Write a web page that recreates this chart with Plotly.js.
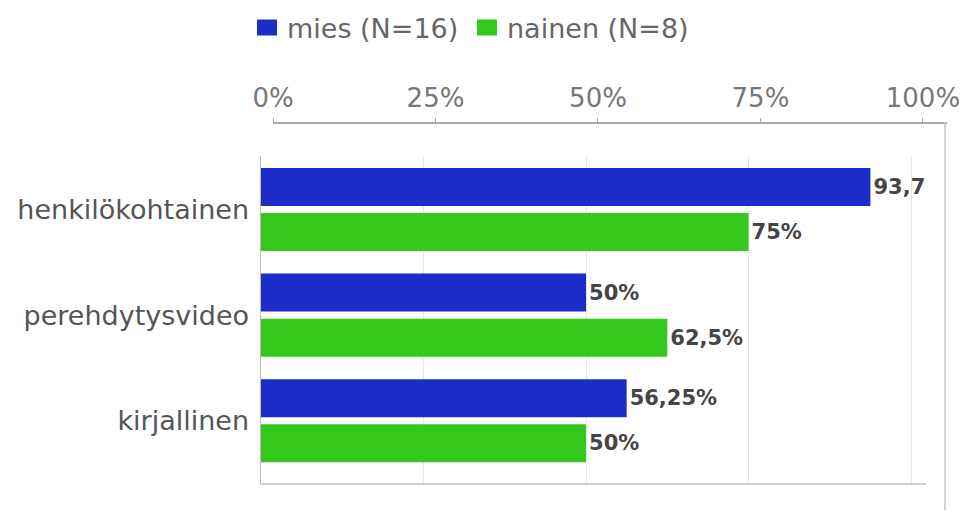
<!DOCTYPE html>
<html>
<head>
<meta charset="utf-8">
<script src="https://cdn.plot.ly/plotly-3.0.1.min.js"></script>
<style>
  html, body { margin: 0; padding: 0; background: #fff; }
  #chart { width: 967px; height: 513px; }
</style>
</head>
<body>
<div id="chart"></div>
<script>
const categories = ['henkilökohtainen', 'perehdytysvideo', 'kirjallinen'];
const miesValues = [93.75, 50, 56.25];
const nainenValues = [75, 62.5, 50];
const miesLabels = ['93,7', '50%', '56,25%'];
const nainenLabels = ['75%', '62,5%', '50%'];
const seriesNames = ['mies (N=16)', 'nainen (N=8)'];
const tickValues = [0, 25, 50, 75, 100];
const tickLabels = ['0%', '25%', '50%', '75%', '100%'];

const W = 967, H = 513;
const px = v => v / W;
const py = v => 1 - v / H;

const labelFont = { family: 'DejaVu Sans', size: 21, color: '#454545', weight: 'bold' };

const traces = [
  {
    type: 'bar', orientation: 'h', name: seriesNames[0],
    y: categories, x: miesValues, text: miesLabels,
    textposition: 'outside', textfont: labelFont, cliponaxis: false,
    constraintext: 'none', hoverinfo: 'none',
    marker: { color: '#1c2cc6' }
  },
  {
    type: 'bar', orientation: 'h', name: seriesNames[1],
    y: categories, x: nainenValues, text: nainenLabels,
    textposition: 'outside', textfont: labelFont, cliponaxis: false,
    constraintext: 'none', hoverinfo: 'none',
    marker: { color: '#35c81c' }
  },
  {
    // empty trace so the top percentage axis (x2) gets drawn
    type: 'scatter', mode: 'markers', x: [], y: [],
    xaxis: 'x2', yaxis: 'y', showlegend: false, hoverinfo: 'skip'
  }
];

const layout = {
  width: W, height: H,
  margin: { l: 0, r: 0, t: 0, b: 0 },
  paper_bgcolor: '#fff', plot_bgcolor: 'rgba(0,0,0,0)',
  font: { family: 'DejaVu Sans', color: '#555' },
  barmode: 'group', bargap: 0.147, bargroupgap: 0.156,
  showlegend: true,
  legend: {
    orientation: 'h', x: px(247), xanchor: 'left', y: py(28), yanchor: 'middle',
    font: { family: 'DejaVu Sans', size: 27, color: '#666' },
    traceorder: 'normal', bgcolor: 'rgba(0,0,0,0)',
    entrywidth: 175, entrywidthmode: 'pixels'
  },
  xaxis: {
    domain: [px(261), px(926)], range: [0, 102.3],
    showticklabels: false, ticks: '',
    tickvals: tickValues,
    showgrid: true, gridcolor: '#e6e6e6', gridwidth: 1,
    zeroline: false,
    showline: true, linecolor: '#cfcfcf', linewidth: 2, side: 'bottom'
  },
  xaxis2: {
    anchor: 'free', position: py(122), side: 'top',
    domain: [px(273), px(947)], range: [0, 103.7],
    tickvals: tickValues, ticktext: tickLabels,
    tickfont: { family: 'DejaVu Sans', size: 26, color: '#777' },
    ticks: 'outside', ticklen: 4, tickcolor: '#aaa', ticklabelstandoff: 1,
    showline: true, linecolor: '#aaa', linewidth: 1.5,
    showgrid: false, zeroline: false
  },
  yaxis: {
    domain: [py(483), py(156)], range: [2.59, -0.507],
    type: 'category',
    tickfont: { family: 'DejaVu Sans', size: 27, color: '#555' },
    ticks: 'outside', ticklen: 5, tickcolor: 'rgba(0,0,0,0)',
    showline: true, linecolor: '#bbb', linewidth: 1.5,
    showgrid: false, zeroline: false, automargin: false
  },
  shapes: [
    { type: 'line', xref: 'paper', yref: 'paper',
      x0: px(945), x1: px(945), y0: py(122), y1: py(510),
      line: { color: '#c4c4c4', width: 1.5 } }
  ]
};

Plotly.newPlot('chart', traces, layout, { displayModeBar: false, staticPlot: true }).then(gd => {
  gd.querySelectorAll('.legendpoints path').forEach(p => p.setAttribute('d', 'M10,8H-10V-8H10Z'));
});
</script>
</body>
</html>
